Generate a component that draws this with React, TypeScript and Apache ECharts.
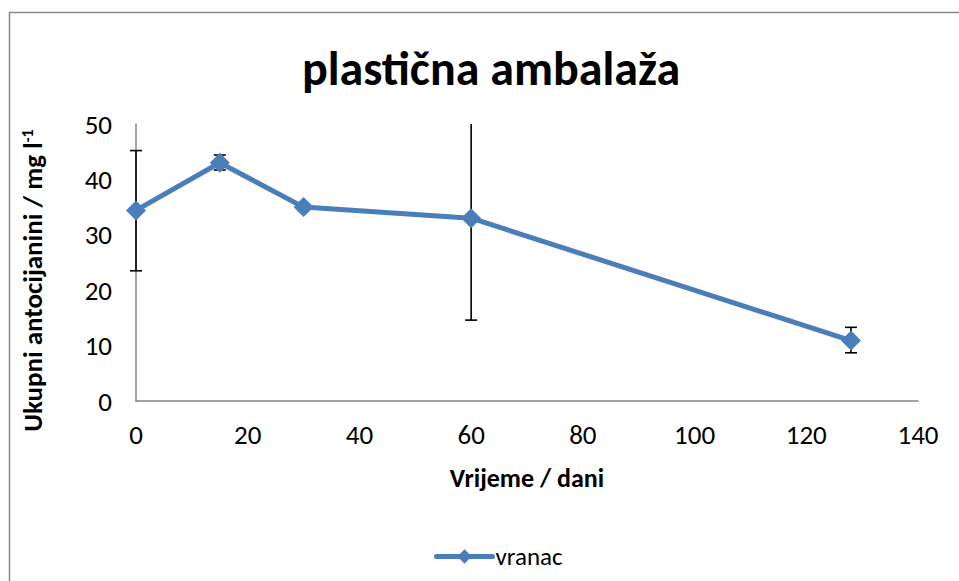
import React, { useEffect, useRef } from "react";
import * as echarts from "echarts";

const days = [0, 15, 30, 60, 128];
const vranac = [34.4, 43.0, 35.0, 33.0, 10.9];
const errLow = [23.5, 41.7, 34.4, 14.6, 8.7];
const errHigh = [45.2, 44.4, 35.6, 51.4, 13.3];
const xTicks = [0, 20, 40, 60, 80, 100, 120, 140];
const yTicks = [0, 10, 20, 30, 40, 50];

const FONT = "Carlito, 'Open Sans', sans-serif";

export default function App() {
  const ref = useRef<HTMLDivElement>(null);
  useEffect(() => {
    const chart = echarts.init(ref.current!, undefined, { renderer: "svg" });
    const lineData = days.map((d, i) => [d, vranac[i]]);
    const errData = days.map((d, i) => [d, errLow[i], errHigh[i]]);
    chart.setOption({
      animation: false,
      backgroundColor: "#ffffff",
      textStyle: { fontFamily: FONT },
      title: {
        text: "plastična ambalaža",
        left: 486,
        textAlign: "center",
        top: 39,
        textStyle: { fontFamily: FONT, fontSize: 48, fontWeight: "bold", color: "#000" },
      },
      graphic: [
        {
          type: "rect",
          silent: true,
          shape: { x: 9.5, y: 12.5, width: 1200, height: 1000 },
          style: { fill: "none", stroke: "#888888", lineWidth: 1.5 },
          z: 0,
        },
      ],
      legend: {
        left: 429,
        top: 539,
        itemWidth: 56,
        itemHeight: 18,
        itemGap: 4,
        data: [{ name: "vranac", lineStyle: { width: 5, cap: "round" } }],
        textStyle: { fontFamily: FONT, fontSize: 25, color: "#000", padding: [0, 0, 0, -2] },
      },
      grid: { left: 136, right: 41, top: 124, bottom: 180 },
      xAxis: {
        type: "value",
        min: xTicks[0],
        max: xTicks[xTicks.length - 1],
        interval: 20,
        name: "Vrijeme / dani",
        nameLocation: "middle",
        nameGap: 64,
        nameTextStyle: { fontFamily: FONT, fontSize: 26, fontWeight: "bold", color: "#000" },
        axisLine: { show: true, lineStyle: { color: "#868686", width: 1.5 } },
        axisTick: { show: false },
        splitLine: { show: false },
        axisLabel: { fontFamily: FONT, fontSize: 27, color: "#000", margin: 20 },
      },
      yAxis: {
        type: "value",
        min: yTicks[0],
        max: yTicks[yTicks.length - 1],
        interval: 10,
        name: "Ukupni antocijanini / mg l{sup|-1}",
        nameLocation: "middle",
        nameGap: 90,
        nameRotate: 90,
        nameTextStyle: {
          fontFamily: FONT,
          fontSize: 27,
          fontWeight: "bold",
          color: "#000",
          padding: [0, 36, 0, 0],
          rich: {
            sup: { fontFamily: FONT, fontSize: 16, fontWeight: "bold", color: "#000", verticalAlign: "top", lineHeight: 14 },
          },
        },
        axisLine: { show: true, lineStyle: { color: "#868686", width: 1.5 } },
        axisTick: { show: false },
        splitLine: { show: false },
        axisLabel: { fontFamily: FONT, fontSize: 27, color: "#000", margin: 24 },
      },
      series: [
        {
          name: "vranac",
          type: "line",
          data: lineData,
          symbol: "diamond",
          symbolSize: 20,
          itemStyle: { color: "#4A7EBB" },
          lineStyle: { color: "#4A7EBB", width: 5, cap: "round" },
          z: 3,
        },
        {
          name: "err",
          type: "custom",
          data: errData,
          z: 2,
          clip: false,
          renderItem: (params: any, api: any) => {
            const cs = params.coordSys;
            const x = api.value(0);
            const lo = api.coord([x, api.value(1)]);
            const hi = api.coord([x, api.value(2)]);
            const top = cs.y;
            const bot = cs.y + cs.height;
            const yHi = Math.max(hi[1], top);
            const yLo = Math.min(lo[1], bot);
            const cx = lo[0];
            const w = 6;
            const style = { stroke: "#000", lineWidth: 1.6, fill: "none" };
            const children: any[] = [
              { type: "line", shape: { x1: cx, y1: yHi, x2: cx, y2: yLo }, style },
            ];
            if (hi[1] >= top) children.push({ type: "line", shape: { x1: cx - w, y1: hi[1], x2: cx + w, y2: hi[1] }, style });
            if (lo[1] <= bot) children.push({ type: "line", shape: { x1: cx - w, y1: lo[1], x2: cx + w, y2: lo[1] }, style });
            return { type: "group", children };
          },
        },
      ],
    });
    return () => chart.dispose();
  }, []);
  return (
    <div
      ref={ref}
      style={{ position: "fixed", left: 0, top: 0, width: 959, height: 581 }}
    />
  );
}
